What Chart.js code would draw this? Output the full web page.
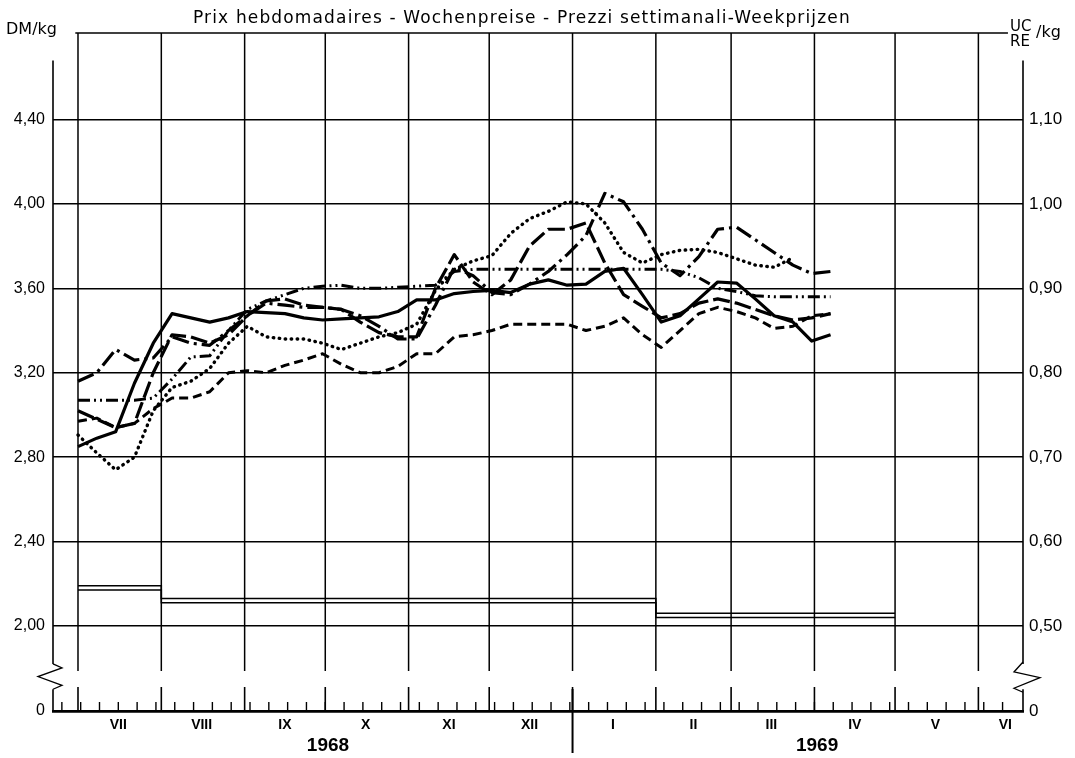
<!DOCTYPE html>
<html>
<head>
<meta charset="utf-8">
<script src="https://cdn.jsdelivr.net/npm/chart.js@4.4.1/dist/chart.umd.min.js"></script>
<style>
  html, body { margin: 0; padding: 0; background: #fff; }
  #wrap { width: 1075px; height: 758px; position: relative; }
</style>
</head>
<body>
<div id="wrap"><canvas id="priceChart"></canvas></div>
<script>
// weeks: days counted from 1 July 1968
const weekDays = [0, 7, 14, 21, 28, 35, 42, 49, 56, 63, 70, 77, 84, 91, 98, 105, 112, 119, 126, 133,
  140, 147, 154, 161, 168, 175, 182, 189, 196, 203, 210, 217, 224, 231, 238, 245, 252, 259, 266, 273, 280];

// weekly prices DM/kg
const solidLine = [2.85, 2.89, 2.92, 3.15, 3.34, 3.48, 3.46, 3.44, 3.46, 3.49, 3.485, 3.48, 3.46, 3.45, 3.455,
  3.46, 3.465, 3.49, 3.545, 3.545, 3.575, 3.585, 3.59, 3.58, 3.62, 3.64, 3.615, 3.62, 3.68, 3.695,
  3.57, 3.44, 3.47, 3.55, 3.63, 3.625, 3.55, 3.47, 3.44, 3.35, 3.38];
const longDash = [3.02, 2.98, 2.94, 2.96, 3.20, 3.38, 3.37, 3.34, 3.38, 3.47, 3.54, 3.55, 3.52, 3.51, 3.50,
  3.44, 3.39, 3.37, 3.37, 3.60, 3.76, 3.63, 3.57, 3.64, 3.80, 3.88, 3.88, 3.91, 3.72, 3.57,
  3.515, 3.46, 3.48, 3.53, 3.55, 3.53, 3.50, 3.47, 3.45, 3.46, 3.48];
const shortDash = [2.97, 2.985, 2.94, 2.96, 3.03, 3.08, 3.08, 3.11, 3.20, 3.21, 3.20, 3.235, 3.26, 3.29, 3.24,
  3.20, 3.20, 3.23, 3.29, 3.29, 3.37, 3.38, 3.40, 3.43, 3.43, 3.43, 3.43, 3.40, 3.42, 3.46,
  3.38, 3.32, 3.40, 3.48, 3.51, 3.49, 3.46, 3.41, 3.42, 3.47, 3.48];
const dotted = [2.905, 2.82, 2.74, 2.80, 3.02, 3.13, 3.16, 3.22, 3.34, 3.42, 3.37, 3.36, 3.36, 3.34, 3.31,
  3.34, 3.37, 3.39, 3.43, 3.59, 3.69, 3.73, 3.755, 3.86, 3.93, 3.965, 4.01, 4.00, 3.91, 3.77,
  3.72, 3.76, 3.78, 3.785, 3.77, 3.74, 3.71, 3.70, 3.745];
const dashDot = [3.16, 3.20, 3.31, 3.26, 3.27, 3.37, 3.34, 3.33, 3.40, 3.47, 3.53, 3.52, 3.51, 3.51, 3.50,
  3.47, 3.42, 3.36, 3.36, 3.52, 3.70, 3.66, 3.58, 3.57, 3.62, 3.68, 3.76, 3.85, 4.05, 4.01,
  3.88, 3.72, 3.66, 3.75, 3.88, 3.89, 3.83, 3.77, 3.71, 3.67, 3.68];
const dashDotDot = [3.07, 3.07, 3.07, 3.07, 3.08, 3.17, 3.275, 3.28, 3.40, 3.50, 3.54, 3.57, 3.60, 3.61, 3.615,
  3.60, 3.60, 3.605, 3.61, 3.615, 3.68, 3.69, 3.69, 3.69, 3.69, 3.69, 3.69, 3.69, 3.69, 3.69,
  3.69, 3.69, 3.68, 3.65, 3.60, 3.585, 3.565, 3.56, 3.56, 3.56, 3.56];

// reference price steps (double line)
const refDays = [0, 31, 215, 304];
const refUpper = [2.19, 2.13, 2.06, 2.06];
const refLower = [2.17, 2.11, 2.04, 2.04];

// axes
const monthStarts = [0, 31, 62, 92, 123, 153, 184, 215, 243, 274, 304, 335];
const monthMid = [15, 46, 77, 107, 138, 168, 199, 229, 258, 289, 319, 345];
const monthLabels = ['VII', 'VIII', 'IX', 'X', 'XI', 'XII', 'I', 'II', 'III', 'IV', 'V', 'VI'];
const yearPos = [93, 275];
const yearLabels = ['1968', '1969'];
const dmTicks = [2.0, 2.4, 2.8, 3.2, 3.6, 4.0, 4.4];
const ucTicks = [0.5, 0.6, 0.7, 0.8, 0.9, 1.0, 1.1];

const xMin = -9.3, xMax = 351.6;
const yMin = 1.597, yMax = 4.81;   // yMin stands for the broken "0"
const ucRate = 4;                  // 1 UC = 4 DM

const pts = arr => arr.map((v, i) => ({ x: weekDays[i], y: v }));
const refPts = arr => arr.map((v, i) => ({ x: refDays[i], y: v }));
const comma = v => v.toFixed(2).replace('.', ',');

Chart.defaults.font.family = '"Liberation Sans", Arial, sans-serif';
Chart.defaults.color = '#000';

const decor = {
  id: 'decor',
  beforeDatasetsDraw(chart) {
    const { ctx, chartArea: a } = chart;
    const x = chart.scales.x, y = chart.scales.y;
    const px = d => x.getPixelForValue(d);
    const py = v => y.getPixelForValue(v);
    const seg = (x1, y1, x2, y2) => { ctx.beginPath(); ctx.moveTo(x1, y1); ctx.lineTo(x2, y2); ctx.stroke(); };
    ctx.save();
    ctx.strokeStyle = '#000';

    // month grid lines, stopping above the break
    ctx.lineWidth = 1.5;
    monthStarts.forEach(d => seg(px(d), a.top, px(d), py(1.787)));
    seg(px(-1), a.top, px(346), a.top);

    // broken vertical axes
    const bTop = py(1.82), bBot = py(1.70), bMid = (bTop + bBot) / 2;
    ctx.lineWidth = 1.6;
    seg(a.left, py(4.68), a.left, bTop);
    seg(a.left, bBot, a.left, a.bottom);
    seg(a.right, py(4.68), a.right, bTop);
    seg(a.right, bBot, a.right, a.bottom);
    ctx.lineWidth = 1.3;
    ctx.beginPath();
    ctx.moveTo(a.left, bTop); ctx.lineTo(a.left + 9, bTop + 4); ctx.lineTo(a.left - 15, bMid);
    ctx.lineTo(a.left + 9, bBot - 4); ctx.lineTo(a.left, bBot);
    ctx.stroke();
    ctx.beginPath();
    ctx.moveTo(a.right, bTop - 2); ctx.lineTo(a.right - 9, bTop + 8); ctx.lineTo(a.right + 17, bMid + 1);
    ctx.lineTo(a.right - 9, bBot - 1); ctx.lineTo(a.right, bBot + 3);
    ctx.stroke();

    // weekly and monthly tick marks on the time axis
    ctx.lineWidth = 1.4;
    for (let d = -6; d <= 350; d += 7) seg(px(d), a.bottom, px(d), a.bottom - 9);
    ctx.lineWidth = 1.6;
    monthStarts.forEach(d => seg(px(d), a.bottom, px(d), a.bottom - 24));
    // year divider
    ctx.lineWidth = 2;
    seg(px(184), a.bottom - 22, px(184), a.bottom + 42);
    ctx.restore();
  },
  afterDraw(chart) {
    const { ctx } = chart;
    ctx.save();
    ctx.fillStyle = '#000';
    ctx.textBaseline = 'alphabetic';
    // title stretched to the width it has in the print
    const title = 'Prix hebdomadaires - Wochenpreise - Prezzi settimanali-Weekprijzen';
    ctx.font = '17px "DejaVu Sans"';
    const w = ctx.measureText(title).width;
    const target = 657;
    ctx.letterSpacing = Math.max(0, (target - w) / (title.length - 1)).toFixed(2) + 'px';
    ctx.textAlign = 'left';
    ctx.fillText(title, 193, 23);
    ctx.letterSpacing = '0px';
    ctx.font = '16px "DejaVu Sans"';
    ctx.fillText('DM/kg', 6, 34);
    ctx.font = '15px "DejaVu Sans"';
    ctx.fillText('UC', 1010, 31);
    ctx.fillText('RE', 1010, 46);
    ctx.font = '16px "DejaVu Sans"';
    ctx.fillText('/kg', 1036, 37);
    ctx.restore();
  }
};

const lineSet = (data, dash, width) => ({
  data: pts(data),
  borderColor: '#000',
  borderWidth: width,
  borderDash: dash,
  borderCapStyle: dash.length && dash[0] <= 1 ? 'round' : 'butt',
  borderJoinStyle: 'round',
  pointRadius: 0,
  tension: 0,
  fill: false
});
const refSet = data => ({
  data: refPts(data),
  borderColor: '#000',
  borderWidth: 1.5,
  stepped: 'before',
  pointRadius: 0,
  fill: false
});

new Chart(document.getElementById('priceChart').getContext('2d'), {
  type: 'line',
  data: {
    datasets: [
      refSet(refUpper),
      refSet(refLower),
      lineSet(shortDash, [9, 5], 3),
      lineSet(dotted, [0.5, 5.5], 3.4),
      lineSet(dashDotDot, [12, 4, 2, 4, 2, 4], 3),
      lineSet(longDash, [17, 5], 3.2),
      lineSet(dashDot, [17, 5, 3, 5], 3.2),
      lineSet(solidLine, [], 3.2)
    ]
  },
  options: {
    responsive: true,
    maintainAspectRatio: false,
    animation: false,
    layout: { padding: { top: 33, left: 0, right: 0, bottom: 0 } },
    plugins: {
      legend: { display: false },
      tooltip: { enabled: false },
      title: { display: false }
    },
    scales: {
      x: {
        type: 'linear', position: 'bottom', min: xMin, max: xMax, weight: 0,
        afterBuildTicks: s => { s.ticks = monthMid.map(v => ({ value: v })); },
        ticks: {
          callback: (v, i) => monthLabels[i],
          font: { size: 14, weight: 'bold' }, padding: 6,
          autoSkip: false, maxRotation: 0, minRotation: 0
        },
        grid: { display: false, drawTicks: false },
        border: { display: true, color: '#000', width: 2.8 },
        afterFit: s => { s.height = 22; }
      },
      x2: {
        type: 'linear', position: 'bottom', min: xMin, max: xMax, weight: 1,
        afterBuildTicks: s => { s.ticks = yearPos.map(v => ({ value: v })); },
        ticks: {
          callback: (v, i) => yearLabels[i],
          font: { size: 19, weight: 'bold' }, padding: 1,
          autoSkip: false, maxRotation: 0, minRotation: 0
        },
        grid: { display: false, drawTicks: false },
        border: { display: false },
        afterFit: s => { s.height = 25; }
      },
      y: {
        type: 'linear', position: 'left', min: yMin, max: yMax,
        afterBuildTicks: s => { s.ticks = [yMin].concat(dmTicks).map(v => ({ value: v })); },
        ticks: {
          callback: v => (v < 1.9 ? '0' : comma(v)),
          font: { size: 16 }, padding: 8, autoSkip: false
        },
        grid: {
          color: c => (c.tick && c.tick.value < 1.9 ? 'rgba(0,0,0,0)' : '#000'),
          lineWidth: 1.4, drawTicks: false
        },
        border: { display: false },
        afterFit: s => { s.width = 53; }
      },
      y2: {
        type: 'linear', position: 'right', min: yMin / ucRate, max: yMax / ucRate,
        afterBuildTicks: s => { s.ticks = [yMin / ucRate].concat(ucTicks).map(v => ({ value: v })); },
        ticks: {
          callback: v => (v < 0.45 ? '0' : comma(v)),
          font: { size: 17 }, padding: 6, autoSkip: false
        },
        grid: { display: false, drawTicks: false },
        border: { display: false },
        afterFit: s => { s.width = 52; }
      }
    }
  },
  plugins: [decor]
});
</script>
</body>
</html>
